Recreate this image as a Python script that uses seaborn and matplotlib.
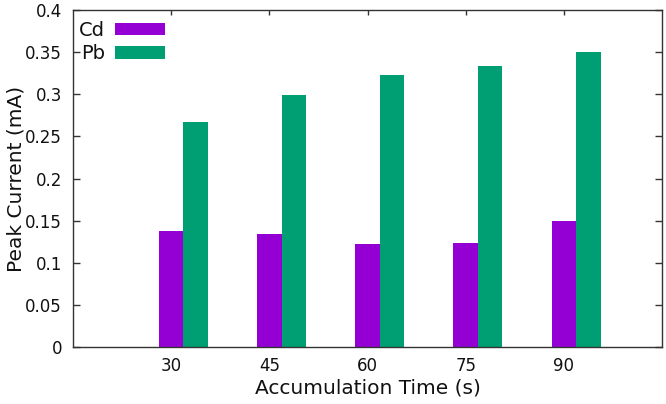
import matplotlib
matplotlib.use("Agg")
import matplotlib.pyplot as plt
import seaborn as sns
import pandas as pd
import numpy as np

times = ["30", "45", "60", "75", "90"]
cd_values = [0.138, 0.134, 0.1225, 0.124, 0.1495]
pb_values = [0.267, 0.299, 0.3225, 0.334, 0.350]
series = ["Cd", "Pb"]
colors = ["#9400D3", "#009E73"]

df = pd.DataFrame({
    "time": times * 2,
    "current": cd_values + pb_values,
    "metal": [series[0]] * len(times) + [series[1]] * len(times),
})

sns.set_theme(style="white")
plt.rcParams["font.family"] = ["DejaVu Sans"]
plt.rcParams["text.color"] = "#111111"
plt.rcParams["axes.labelcolor"] = "#111111"
plt.rcParams["xtick.labelcolor"] = "#111111"
plt.rcParams["ytick.labelcolor"] = "#111111"

fig = plt.figure(figsize=(6.66, 4.04), dpi=100)
ax = fig.add_axes([73 / 666, 1 - 347 / 404, (662 - 73) / 666, (347 - 10) / 404])

sns.barplot(data=df, x="time", y="current", hue="metal", order=times,
            hue_order=series, palette=colors, width=0.5, saturation=1,
            ax=ax, legend=True)
for p in ax.patches:
    p.set_edgecolor("none")

n = len(times)
pos = np.arange(n) - 0.125
ax.set_xlim(pos[0] - 1, pos[-1] + 1)
ax.set_ylim(0, 0.4)
ax.set_xticks(pos)
ax.set_xticklabels(times)
ax.set_yticks(np.arange(0, 0.401, 0.05))
ax.set_yticklabels(["0", "0.05", "0.1", "0.15", "0.2", "0.25", "0.3", "0.35", "0.4"])

ax.tick_params(axis="y", which="both", direction="in", length=5, width=1,
               color="#333333", left=True, right=True, labelsize=12, pad=8)
ax.tick_params(axis="x", which="both", direction="in", length=3.6, width=1,
               color="#333333", bottom=False, top=True, labelsize=12, pad=7)

for s in ax.spines.values():
    s.set_visible(True)
    s.set_color("#333333")
    s.set_linewidth(1)

ax.set_xlabel("Accumulation Time (s)", fontsize=14.5, labelpad=3)
ax.set_ylabel("Peak Current (mA)", fontsize=14.5, labelpad=0)

leg = ax.legend(loc="upper left", frameon=False, markerfirst=False,
                handlelength=2.6, handleheight=0.62, handletextpad=0.5,
                fontsize=14, labelspacing=0.22, borderaxespad=0.0,
                borderpad=0.3, bbox_to_anchor=(0.0, 0.985))

fig.savefig("out.png", dpi=100)
